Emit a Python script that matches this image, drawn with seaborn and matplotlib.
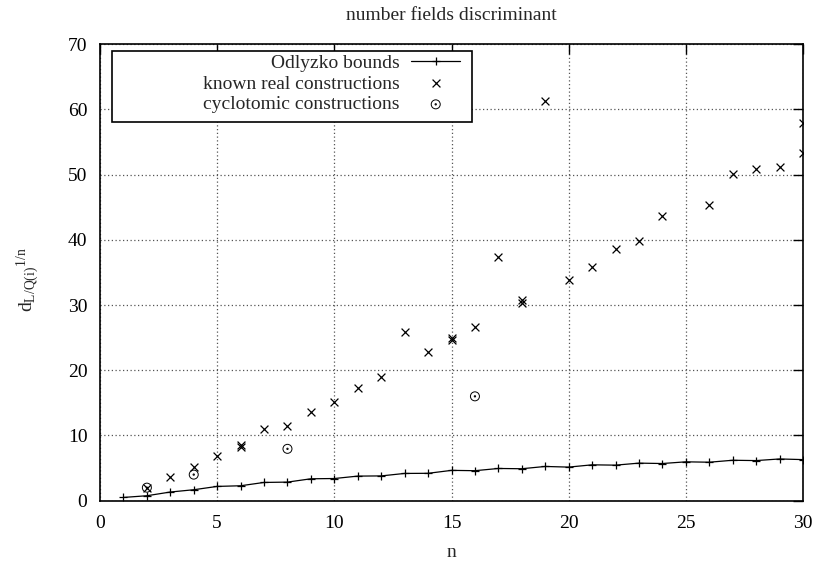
import matplotlib
matplotlib.use("Agg")
import matplotlib.pyplot as plt
from matplotlib.patches import Rectangle
from matplotlib.path import Path
import seaborn as sns
import pandas as pd

# ---- data ----
odl_n = list(range(1, 31))
odl_v = [0.5, 0.76, 1.33, 1.68, 2.19, 2.29, 2.8, 2.85, 3.36, 3.4,
         3.77, 3.8, 4.18, 4.2, 4.65, 4.6, 4.94, 4.9, 5.25, 5.15,
         5.5, 5.45, 5.76, 5.7, 5.96, 5.9, 6.2, 6.15, 6.4, 6.3]

real_n = [2, 3, 4, 5, 6, 6, 7, 8, 9, 10, 11, 12, 13, 14, 15, 15, 16, 17,
          18, 18, 19, 20, 21, 22, 23, 24, 26, 27, 28, 29, 30, 30]
real_v = [2.0, 3.6, 5.15, 6.8, 8.2, 8.5, 11.0, 11.5, 13.65, 15.2, 17.3, 18.9,
          25.8, 22.75, 24.6, 25.0, 26.6, 37.4, 30.3, 30.7, 61.3, 33.9, 35.9,
          38.6, 39.75, 43.6, 45.4, 50.1, 50.9, 51.2, 53.3, 57.85]

cyc_n = [2, 4, 8, 16]
cyc_v = [2.0, 4.0, 7.95, 16.0]

x_ticks = [0, 5, 10, 15, 20, 25, 30]
y_ticks = [0, 10, 20, 30, 40, 50, 60, 70]

title = "number fields discriminant"
labels = ["Odlyzko bounds", "known real constructions", "cyclotomic constructions"]

# ---- style ----
sns.set_style("white")
plt.rcParams["font.family"] = ["Liberation Serif", "DejaVu Serif"]
plt.rcParams["mathtext.fontset"] = "custom"
plt.rcParams["mathtext.rm"] = "Liberation Serif"
plt.rcParams["mathtext.it"] = "Liberation Serif"

W, H = 819, 568
fig = plt.figure(figsize=(W / 100, H / 100), dpi=100)
ax = fig.add_axes([100 / W, 1 - 500.7 / H, 703 / W, (500.7 - 44.1) / H])

df_odl = pd.DataFrame({"n": odl_n, "v": odl_v})
df_real = pd.DataFrame({"n": real_n, "v": real_v})
df_cyc = pd.DataFrame({"n": cyc_n, "v": cyc_v})

# circle-with-dot marker (gnuplot style)
odot = Path.make_compound_path(Path.unit_circle(), Path.circle((0, 0), 0.15))

sns.lineplot(data=df_odl, x="n", y="v", ax=ax, color="black", lw=0.9,
             marker="+", markersize=6, markeredgewidth=0.9,
             markeredgecolor="black", label=labels[0])
sns.scatterplot(data=df_real, x="n", y="v", ax=ax, color="black", marker="x",
                s=32, linewidth=0.9, label=labels[1])
sns.scatterplot(data=df_cyc, x="n", y="v", ax=ax, marker=odot, s=42,
                facecolor="none", edgecolor="black", linewidth=0.7, label=labels[2])

ax.set_xlim(0, 30)
ax.set_ylim(0, 70)
ax.set_xticks(x_ticks)
ax.set_yticks(y_ticks)
ax.tick_params(axis="both", direction="in", length=7, width=1, labelsize=14,
               top=True, right=True, colors="black")
ax.tick_params(axis="x", pad=10)
ax.tick_params(axis="y", pad=9)
ax.grid(True, linestyle=(0, (1, 2)), color="#555555", linewidth=0.9)
for s in ax.spines.values():
    s.set_color("black")
    s.set_linewidth(1.2)

ax.set_xlabel("n", fontsize=14, labelpad=9)
ax.set_ylabel(r"$\mathregular{d_{L/Q(i)}{}^{1/n}}$", fontsize=14)
ax.yaxis.set_label_coords((41 - 100) / 703, (500.7 - 280) / 456.6)
ax.set_title(title, fontsize=14, pad=17)

leg = ax.legend(loc="upper left", bbox_to_anchor=(203 / W, 1 - 54 / H),
                bbox_transform=fig.transFigure, markerfirst=False, frameon=False,
                fontsize=14, handlelength=2.5, borderpad=0.0, labelspacing=0.17,
                handletextpad=0.6, borderaxespad=0.0)
leg.set_zorder(6)
box = Rectangle((112 / W, 1 - 122 / H), (472 - 112) / W, (122 - 51) / H,
                transform=fig.transFigure, fill=True, facecolor="white",
                edgecolor="black", linewidth=1.2, zorder=5, clip_on=False)
ax.add_patch(box)

fig.savefig("out.png", dpi=100)
